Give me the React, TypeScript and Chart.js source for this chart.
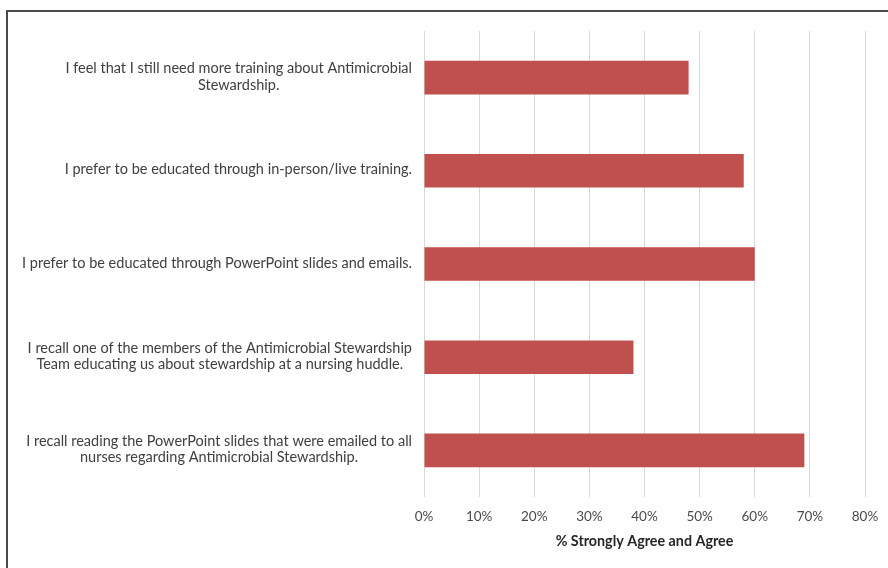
import React, { useEffect, useRef } from "react";
import { Chart, registerables } from "chart.js";

Chart.register(...registerables);

const categories: string[][] = [
  ["I feel that I still need more training about Antimicrobial", "Stewardship."],
  ["I prefer to be educated through in-person/live training."],
  ["I prefer to be educated through PowerPoint slides and emails."],
  ["I recall one of the members of the Antimicrobial Stewardship", "Team educating us about stewardship at a nursing huddle."],
  ["I recall reading the PowerPoint slides that were emailed to all", "nurses regarding Antimicrobial Stewardship."],
];
const values: number[] = [48, 58, 60, 38, 69];
const xTicks: number[] = [0, 10, 20, 30, 40, 50, 60, 70, 80];
const axisTitle = "% Strongly Agree and Agree";

const FONT = "Lato, 'Open Sans', sans-serif";
const TEXT = "#404040";

const frameAndLabels = {
  id: "frameAndLabels",
  afterDraw(chart: any) {
    const ctx = chart.ctx;
    const y = chart.scales.y;
    const area = chart.chartArea;
    ctx.save();
    // outer frame
    ctx.strokeStyle = "#4a4a4a";
    ctx.lineWidth = 2;
    ctx.strokeRect(7, 11, chart.width + 20, chart.height + 20);
    // category labels: block right-aligned, lines centred within block
    ctx.font = "14.5px " + FONT;
    ctx.fillStyle = TEXT;
    ctx.textAlign = "center";
    ctx.textBaseline = "middle";
    const lineH = 16.5;
    const rightEdge = area.left - 12;
    categories.forEach((lines, i) => {
      const cy = y.getPixelForValue(i);
      const w = Math.max(...lines.map((l) => ctx.measureText(l).width));
      const cx = rightEdge - w / 2;
      const startY = cy - ((lines.length - 1) * lineH) / 2 - 1;
      lines.forEach((l, j) => ctx.fillText(l, cx, startY + j * lineH));
    });
    ctx.restore();
  },
};

export default function App() {
  const ref = useRef<HTMLCanvasElement | null>(null);
  useEffect(() => {
    document.body.style.margin = "0";
    const chart = new Chart(ref.current!, {
      type: "bar",
      data: {
        labels: categories.map((c) => c.join(" ")),
        datasets: [
          {
            data: values,
            backgroundColor: "#C0504D",
            borderWidth: 0,
            barPercentage: 0.36,
            categoryPercentage: 1,
          },
        ],
      },
      options: {
        indexAxis: "y",
        animation: false,
        responsive: false,
        maintainAspectRatio: false,
        layout: { padding: { left: 424, right: 23, top: 31, bottom: 0 } },
        plugins: {
          legend: { display: false },
          tooltip: { enabled: false },
        },
        scales: {
          x: {
            min: 0,
            max: 80,
            afterBuildTicks: (scale: any) => {
              scale.ticks = xTicks.map((v) => ({ value: v }));
            },
            afterFit: (scale: any) => {
              scale.height = 71;
              scale.paddingRight = 0;
            },
            grid: { color: "#D9D9D9", lineWidth: 1, drawTicks: false },
            border: { display: false },
            ticks: {
              padding: 12,
              color: "#4a4a4a",
              font: { family: FONT, size: 13.5 },
              callback: (v: any) => v + "%",
            },
            title: {
              display: true,
              text: axisTitle,
              color: "#262626",
              font: { family: FONT, size: 14.3, weight: "bold" },
              padding: { top: 0, bottom: 18 },
            },
          },
          y: {
            display: false,
          },
        },
      },
      plugins: [frameAndLabels],
    });
    return () => chart.destroy();
  }, []);
  return (
    <div style={{ width: 888, height: 568, background: "#fff" }}>
      <canvas ref={ref} width={888} height={568} style={{ display: "block" }} />
    </div>
  );
}
